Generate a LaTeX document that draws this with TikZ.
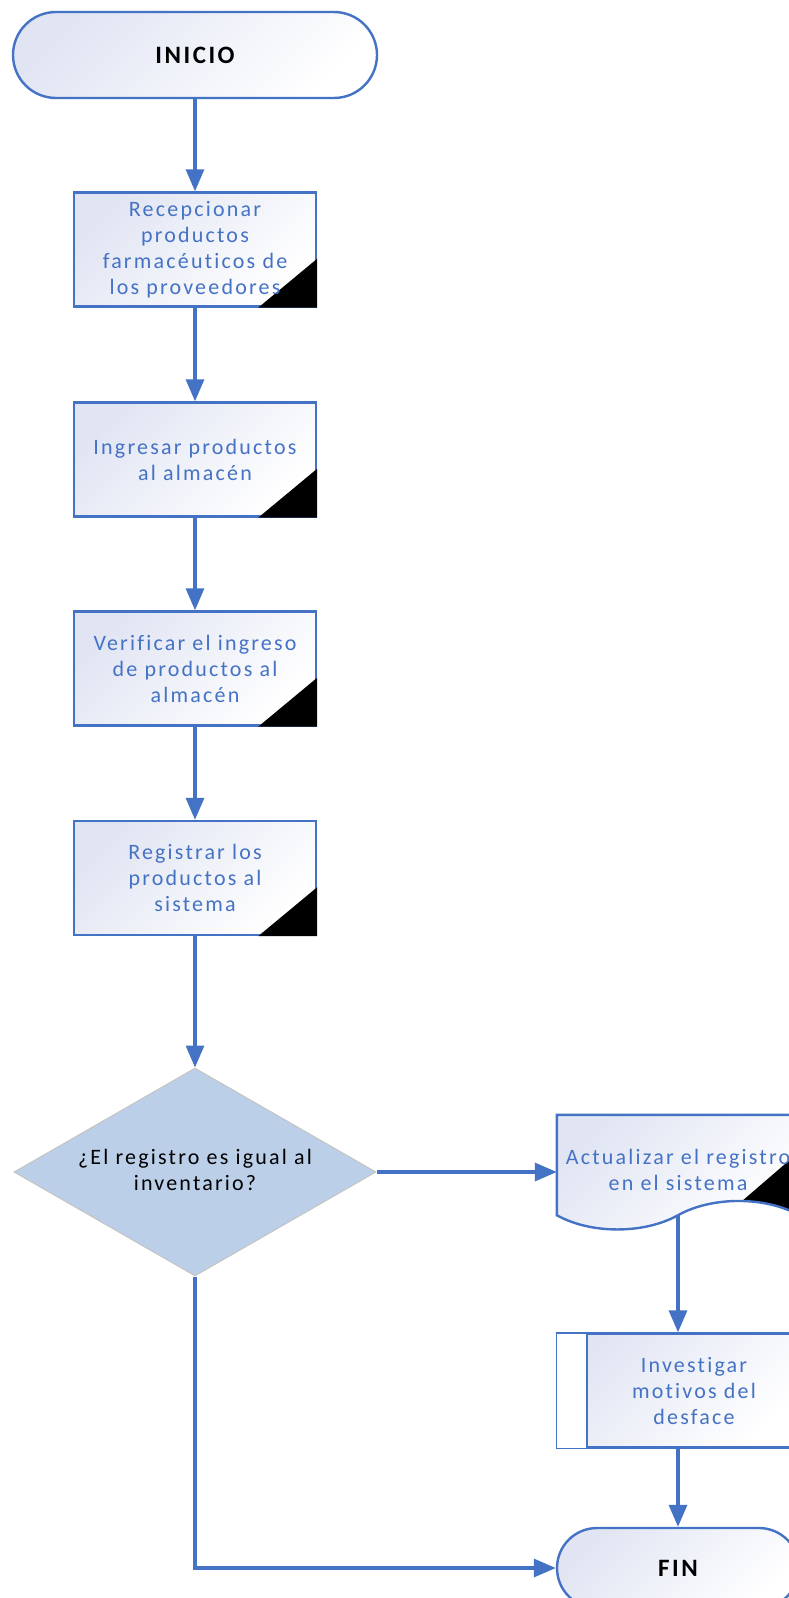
\documentclass[tikz,border=0pt]{standalone}
\usepackage{fontspec}
\setmainfont{Carlito}[LetterSpace=10, Ligatures=NoCommon]
\usetikzlibrary{shapes.geometric,shapes.misc,arrows.meta}
\definecolor{lblue}{HTML}{4472C4}
\definecolor{lav}{HTML}{E1E5F3}
\definecolor{dfill}{HTML}{BCCFE8}
\definecolor{dgray}{HTML}{C4C4C4}
\tikzset{
  conn/.style={draw=lblue, line width=3.2pt, -{Triangle[length=22pt,width=18pt]}},
  grad/.style={top color=lav, bottom color=white, shading angle=45},
  proc/.style={rectangle, draw=lblue, line width=2.4pt, minimum width=242pt, minimum height=114pt, inner sep=0pt, grad},
  term/.style={rounded rectangle, draw=lblue, line width=2.4pt, inner sep=0pt, grad, font=\fontsize{25}{30}\selectfont\bfseries, text=black},
  ptext/.style={align=center, font=\fontsize{22}{26}\selectfont, text=lblue, inner sep=0pt},
  dtext/.style={align=center, font=\fontsize{22}{26}\selectfont, text=black, inner sep=0pt},
  corner/.style={fill=black},
}
\begin{document}
\begin{tikzpicture}[x=1pt,y=-1pt]
\path[use as bounding box, fill=white] (0,0) rectangle (789,1598);
\clip (0,0) rectangle (789,1598);

% start
\node[term, minimum width=364pt, minimum height=86pt] (ini) at (195,55) {INICIO};

% process boxes
\node[proc] (b1) at (195,249.5) {};
\fill[corner] (b1.south east) -- ++(-59,0) -- ++(59,-49) -- cycle;
\node[ptext] at (b1) {Recepcionar\\productos\\farmacéuticos de\\los proveedores};

\node[proc] (b2) at (195,459.5) {};
\fill[corner] (b2.south east) -- ++(-59,0) -- ++(59,-49) -- cycle;
\node[ptext] at (b2) {Ingresar productos\\al almacén};

\node[proc] (b3) at (195,668.5) {};
\fill[corner] (b3.south east) -- ++(-59,0) -- ++(59,-49) -- cycle;
\node[ptext] at (b3) {Verificar el ingreso\\de productos al\\almacén};

\node[proc] (b4) at (195,878) {};
\fill[corner] (b4.south east) -- ++(-59,0) -- ++(59,-49) -- cycle;
\node[ptext] at (b4) {Registrar los\\productos al\\sistema};

% decision
\node[diamond, draw=dgray, fill=dfill, line width=1pt, minimum width=362pt, minimum height=208pt, inner sep=0pt] (dec) at (195,1172) {};
\node[dtext] at ([yshift=2pt]dec.center) {¿El registro es igual al\\inventario?};

% document
\node[rectangle, minimum width=242pt, minimum height=100pt, inner sep=0pt] (act) at (678,1165) {};
\path[grad] (act.north west) -- (act.north east) -- (act.south east)
  .. controls +(-34,-19) and +(34,-19) .. (act.south)
  .. controls +(-34,19) and +(34,19) .. (act.south west) -- cycle;
\begin{scope}
\clip (act.north west) -- (act.north east) -- (act.south east)
  .. controls +(-34,-19) and +(34,-19) .. (act.south)
  .. controls +(-34,19) and +(34,19) .. (act.south west) -- cycle;
\fill[corner] (720,1220) -- (799,1152) -- (799,1260) -- (720,1260) -- cycle;
\end{scope}
\draw[lblue, line width=2.4pt] (act.north west) -- (act.north east) -- (act.south east)
  .. controls +(-34,-19) and +(34,-19) .. (act.south)
  .. controls +(-34,19) and +(34,19) .. (act.south west) -- cycle;
\node[ptext] at ([yshift=-5pt]act.center) {Actualizar el registro\\en el sistema};

% predefined process
\node[proc] (inv) at (678,1390.5) {};
\fill[white] ([xshift=1.2pt,yshift=-1.2pt]inv.north west) rectangle ([xshift=31pt,yshift=1.2pt]inv.south west);
\draw[lblue, line width=2.4pt] ([xshift=31pt]inv.north west) -- ([xshift=31pt]inv.south west);
\node[ptext] at ([xshift=16pt]inv.center) {Investigar\\motivos del\\desface};

% end
\node[term, minimum width=242pt, minimum height=80pt] (fin) at (678,1568) {FIN};

% connectors
\draw[conn] (ini.south) -- (b1.north);
\draw[conn] (b1.south) -- (b2.north);
\draw[conn] (b2.south) -- (b3.north);
\draw[conn] (b3.south) -- (b4.north);
\draw[conn] (b4.south) -- (dec.north);
\draw[conn] (dec.east) -- (dec.east -| act.west);
\draw[conn] (act.south) -- (inv.north);
\draw[conn] (inv.south) -- (fin.north);
\draw[conn] (dec.south) |- (fin.west);
\end{tikzpicture}
\end{document}
